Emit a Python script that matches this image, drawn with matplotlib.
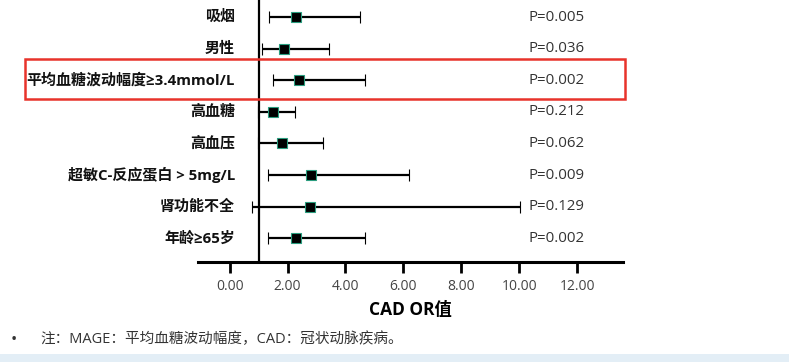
import numpy as np
import matplotlib.pyplot as plt
from matplotlib.patches import Rectangle
from matplotlib.transforms import blended_transform_factory

plt.rcParams['font.family'] = ['Open Sans', 'Noto Sans CJK SC', 'DejaVu Sans']

# data, top row first
labels = ['吸烟', '男性', '平均血糖波动幅度≥3.4mmol/L', '高血糖', '高血压',
          '超敏C-反应蛋白 > 5mg/L', '肾功能不全', '年龄≥65岁']
odds = [2.29, 1.88, 2.41, 1.49, 1.80, 2.82, 2.78, 2.29]
lower = [1.37, 1.11, 1.51, 0.99, 0.98, 1.34, 0.77, 1.34]
upper = [4.51, 3.44, 4.68, 2.26, 3.24, 6.19, 10.01, 4.66]
pvals = ['P=0.005', 'P=0.036', 'P=0.002', 'P=0.212', 'P=0.062',
         'P=0.009', 'P=0.129', 'P=0.002']
xticks = [0, 2, 4, 6, 8, 10, 12]

W, H = 789, 362
fig = plt.figure(figsize=(W / 100, H / 100), dpi=100)
ax = fig.add_axes([198 / W, (H - 262) / H, (623 - 198) / W, 262 / H])

n = len(labels)
ypos = np.arange(n, 0, -1)
odds = np.array(odds)
err = [odds - np.array(lower), np.array(upper) - odds]

ax.axvline(1, color='black', lw=1.6, zorder=1)
ax.errorbar(odds, ypos, xerr=err, fmt='s', color='black', ecolor='black',
            elinewidth=1.6, capsize=4.5, capthick=1.6, ms=7,
            mfc='black', mec='#2a9d7f', mew=0.8, zorder=3)

ax.set_xlim(-1.09, 13.58)
ax.set_ylim(0.25, 8.54)
ax.set_yticks([])
for s in ['top', 'right', 'left']:
    ax.spines[s].set_visible(False)
ax.spines['bottom'].set_linewidth(2.2)
ax.set_xticks(xticks)
ax.set_xticklabels(['%.2f' % t for t in xticks], fontsize=10, color='#444444')
ax.tick_params(axis='x', length=8, width=2, pad=4)
ax.set_xlabel('CAD OR值', fontsize=12.5, fontweight='bold', labelpad=5)

tr = blended_transform_factory(fig.transFigure, ax.transData)
for y, lab, p in zip(ypos, labels, pvals):
    ax.text(235 / W, y, lab, transform=tr, ha='right', va='center',
            fontsize=10.8, fontweight='bold', color='#111111')
    ax.text(528 / W, y, p, transform=tr, ha='left', va='center',
            fontsize=10.8, color='#333333')

# highlight box
fig.patches.append(Rectangle((25 / W, (H - 99) / H), 600 / W, 40 / H,
                             transform=fig.transFigure, fill=False,
                             ec='#e8332b', lw=1.8))

fig.text(11 / W, 1 - 340 / H, '•', fontsize=12, va='center', color='#333333')
fig.text(40 / W, 1 - 340 / H, '注：MAGE：平均血糖波动幅度，CAD：冠状动脉疾病。',
         fontsize=10.5, va='center', color='#333333')

# pale strip at the bottom of the screenshot
fig.patches.append(Rectangle((0, 0), 1, 8 / H, transform=fig.transFigure,
                             color='#e3eef6', lw=0))

fig.savefig('out.png', dpi=100)
